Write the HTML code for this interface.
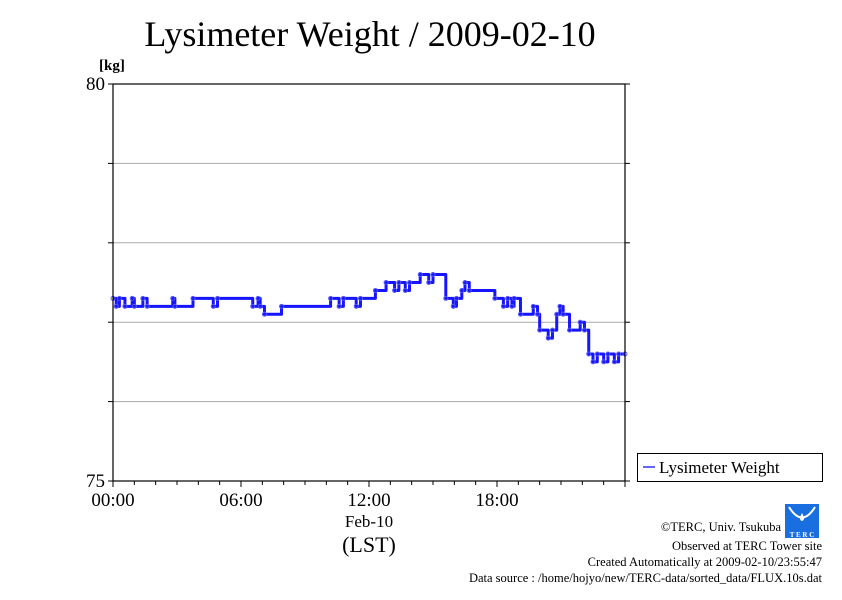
<!DOCTYPE html>
<html><head><meta charset="utf-8"><style>
body{margin:0;background:#fff;}
svg text{font-family:"Liberation Serif",serif;fill:#000;}
</style></head><body>
<svg width="842" height="595" xmlns="http://www.w3.org/2000/svg">
<text x="370" y="46" font-size="36" text-anchor="middle">Lysimeter Weight / 2009-02-10</text>
<text x="99" y="70" font-size="15" font-weight="bold">[kg]</text>
<g id="grid"></g>
<g id="axes"></g>
<g id="series"></g>
<rect x="113" y="84" width="512" height="397" fill="none" stroke="#000" stroke-width="1.2"/>
<g>
<rect x="637.5" y="453.5" width="185" height="28" fill="#fff" stroke="#000"/>
<line x1="643" y1="467" x2="655" y2="467" stroke="#3333ff" stroke-width="1.5"/>
<text x="659" y="473" font-size="17">Lysimeter Weight</text>
</g>
<text x="369" y="527" font-size="17" text-anchor="middle">Feb-10</text>
<text x="369" y="552" font-size="22" text-anchor="middle">(LST)</text>
<g>
<rect x="785" y="504" width="34" height="34" fill="#1a6fe0"/>
<path d="M789 507 Q802 528 815 507" fill="none" stroke="#fff" stroke-width="2"/>
<path d="M802 513 q-4 7 0 8 q4 -1 0 -8z" fill="#fff"/>
<text x="802" y="537" font-size="7" fill="#fff" text-anchor="middle" style="fill:#fff" font-weight="bold">T E R C</text>
</g>
<g font-size="12.5" text-anchor="end">
<text x="781" y="531">©TERC, Univ. Tsukuba</text>
<text x="822" y="550">Observed at TERC Tower site</text>
<text x="822" y="566">Created Automatically at 2009-02-10/23:55:47</text>
<text x="822" y="582">Data source : /home/hojyo/new/TERC-data/sorted_data/FLUX.10s.dat</text>
</g>
</svg>
<script>
const hours = [0,0.15,0.3,0.56,0.9,1.0,1.4,1.6,2.8,2.9,3.75,4.7,4.9,6.55,6.8,6.9,7.1,7.9,10.2,10.6,10.8,11.4,11.6,12.3,12.8,13.2,13.4,13.7,13.9,14.4,14.8,15.0,15.6,15.95,16.1,16.35,16.5,16.7,17.9,18.3,18.5,18.7,18.8,19.1,19.7,19.9,20.0,20.4,20.6,20.8,20.95,21.1,21.4,21.9,22.1,22.3,22.5,22.7,23.0,23.2,23.5,23.7,24];
const values = [77.3,77.2,77.3,77.2,77.3,77.2,77.3,77.2,77.3,77.2,77.3,77.2,77.3,77.2,77.3,77.2,77.1,77.2,77.3,77.2,77.3,77.2,77.3,77.4,77.5,77.4,77.5,77.4,77.5,77.6,77.5,77.6,77.3,77.2,77.3,77.4,77.5,77.4,77.3,77.2,77.3,77.2,77.3,77.1,77.2,77.1,76.9,76.8,76.9,77.1,77.2,77.1,76.9,77.0,76.9,76.6,76.5,76.6,76.5,76.6,76.5,76.6,76.6];
const yTicks = [75,80];
const xTickLabels = ["00:00","06:00","12:00","18:00"];
const NS="http://www.w3.org/2000/svg";
const X0=113,X1=625,Y0=481,Y1=84;
function xs(h){return X0+(h/24)*(X1-X0);}
function ys(v){return Y0-(v-75)/5*(Y0-Y1);}
const grid=document.getElementById('grid'),axes=document.getElementById('axes'),ser=document.getElementById('series');
function mk(t,a,p){const e=document.createElementNS(NS,t);for(const k in a)e.setAttribute(k,a[k]);p.appendChild(e);return e;}
for(let v=76;v<80;v++){
 const l=mk('line',{x1:X0,x2:X1,y1:ys(v),y2:ys(v),stroke:'#aaa','stroke-width':1},grid);
 
 
}
for(let v=75;v<=80;v++){mk('line',{x1:X0-5,x2:X0,y1:ys(v),y2:ys(v),stroke:'#000'},axes);mk('line',{x1:X1,x2:X1+5,y1:ys(v),y2:ys(v),stroke:'#000'},axes);}
yTicks.forEach(v=>{const t=mk('text',{x:X0-8,y:ys(v)+6,'font-size':19,'text-anchor':'end'},axes);t.textContent=v;
 
 });
for(let h=0;h<=24;h++){const L=h%6==0?6:4;mk('line',{x1:xs(h),x2:xs(h),y1:Y0,y2:Y0+L,stroke:'#000'},axes);}
xTickLabels.forEach((s,i)=>{const t=mk('text',{x:xs(i*6),y:506,'font-size':19,'text-anchor':'middle'},axes);t.textContent=s;
 
 });
let d='';
for(let i=0;i<hours.length;i++){
 const x=xs(hours[i]),y=ys(values[i]);
 if(i==0)d+='M'+x+' '+y;else d+=' L'+x+' '+ys(values[i-1])+' L'+x+' '+y;
}
const p=mk('path',{d:d,fill:'none',stroke:'#1515ff','stroke-width':3,'stroke-linejoin':'round'},ser);


for(let i=0;i<hours.length;i++){
 const c=mk('circle',{cx:xs(hours[i]),cy:ys(values[i]),r:2,fill:'none',stroke:'#5555ff','stroke-width':1},ser);
 
 
}
</script>
</body></html>
